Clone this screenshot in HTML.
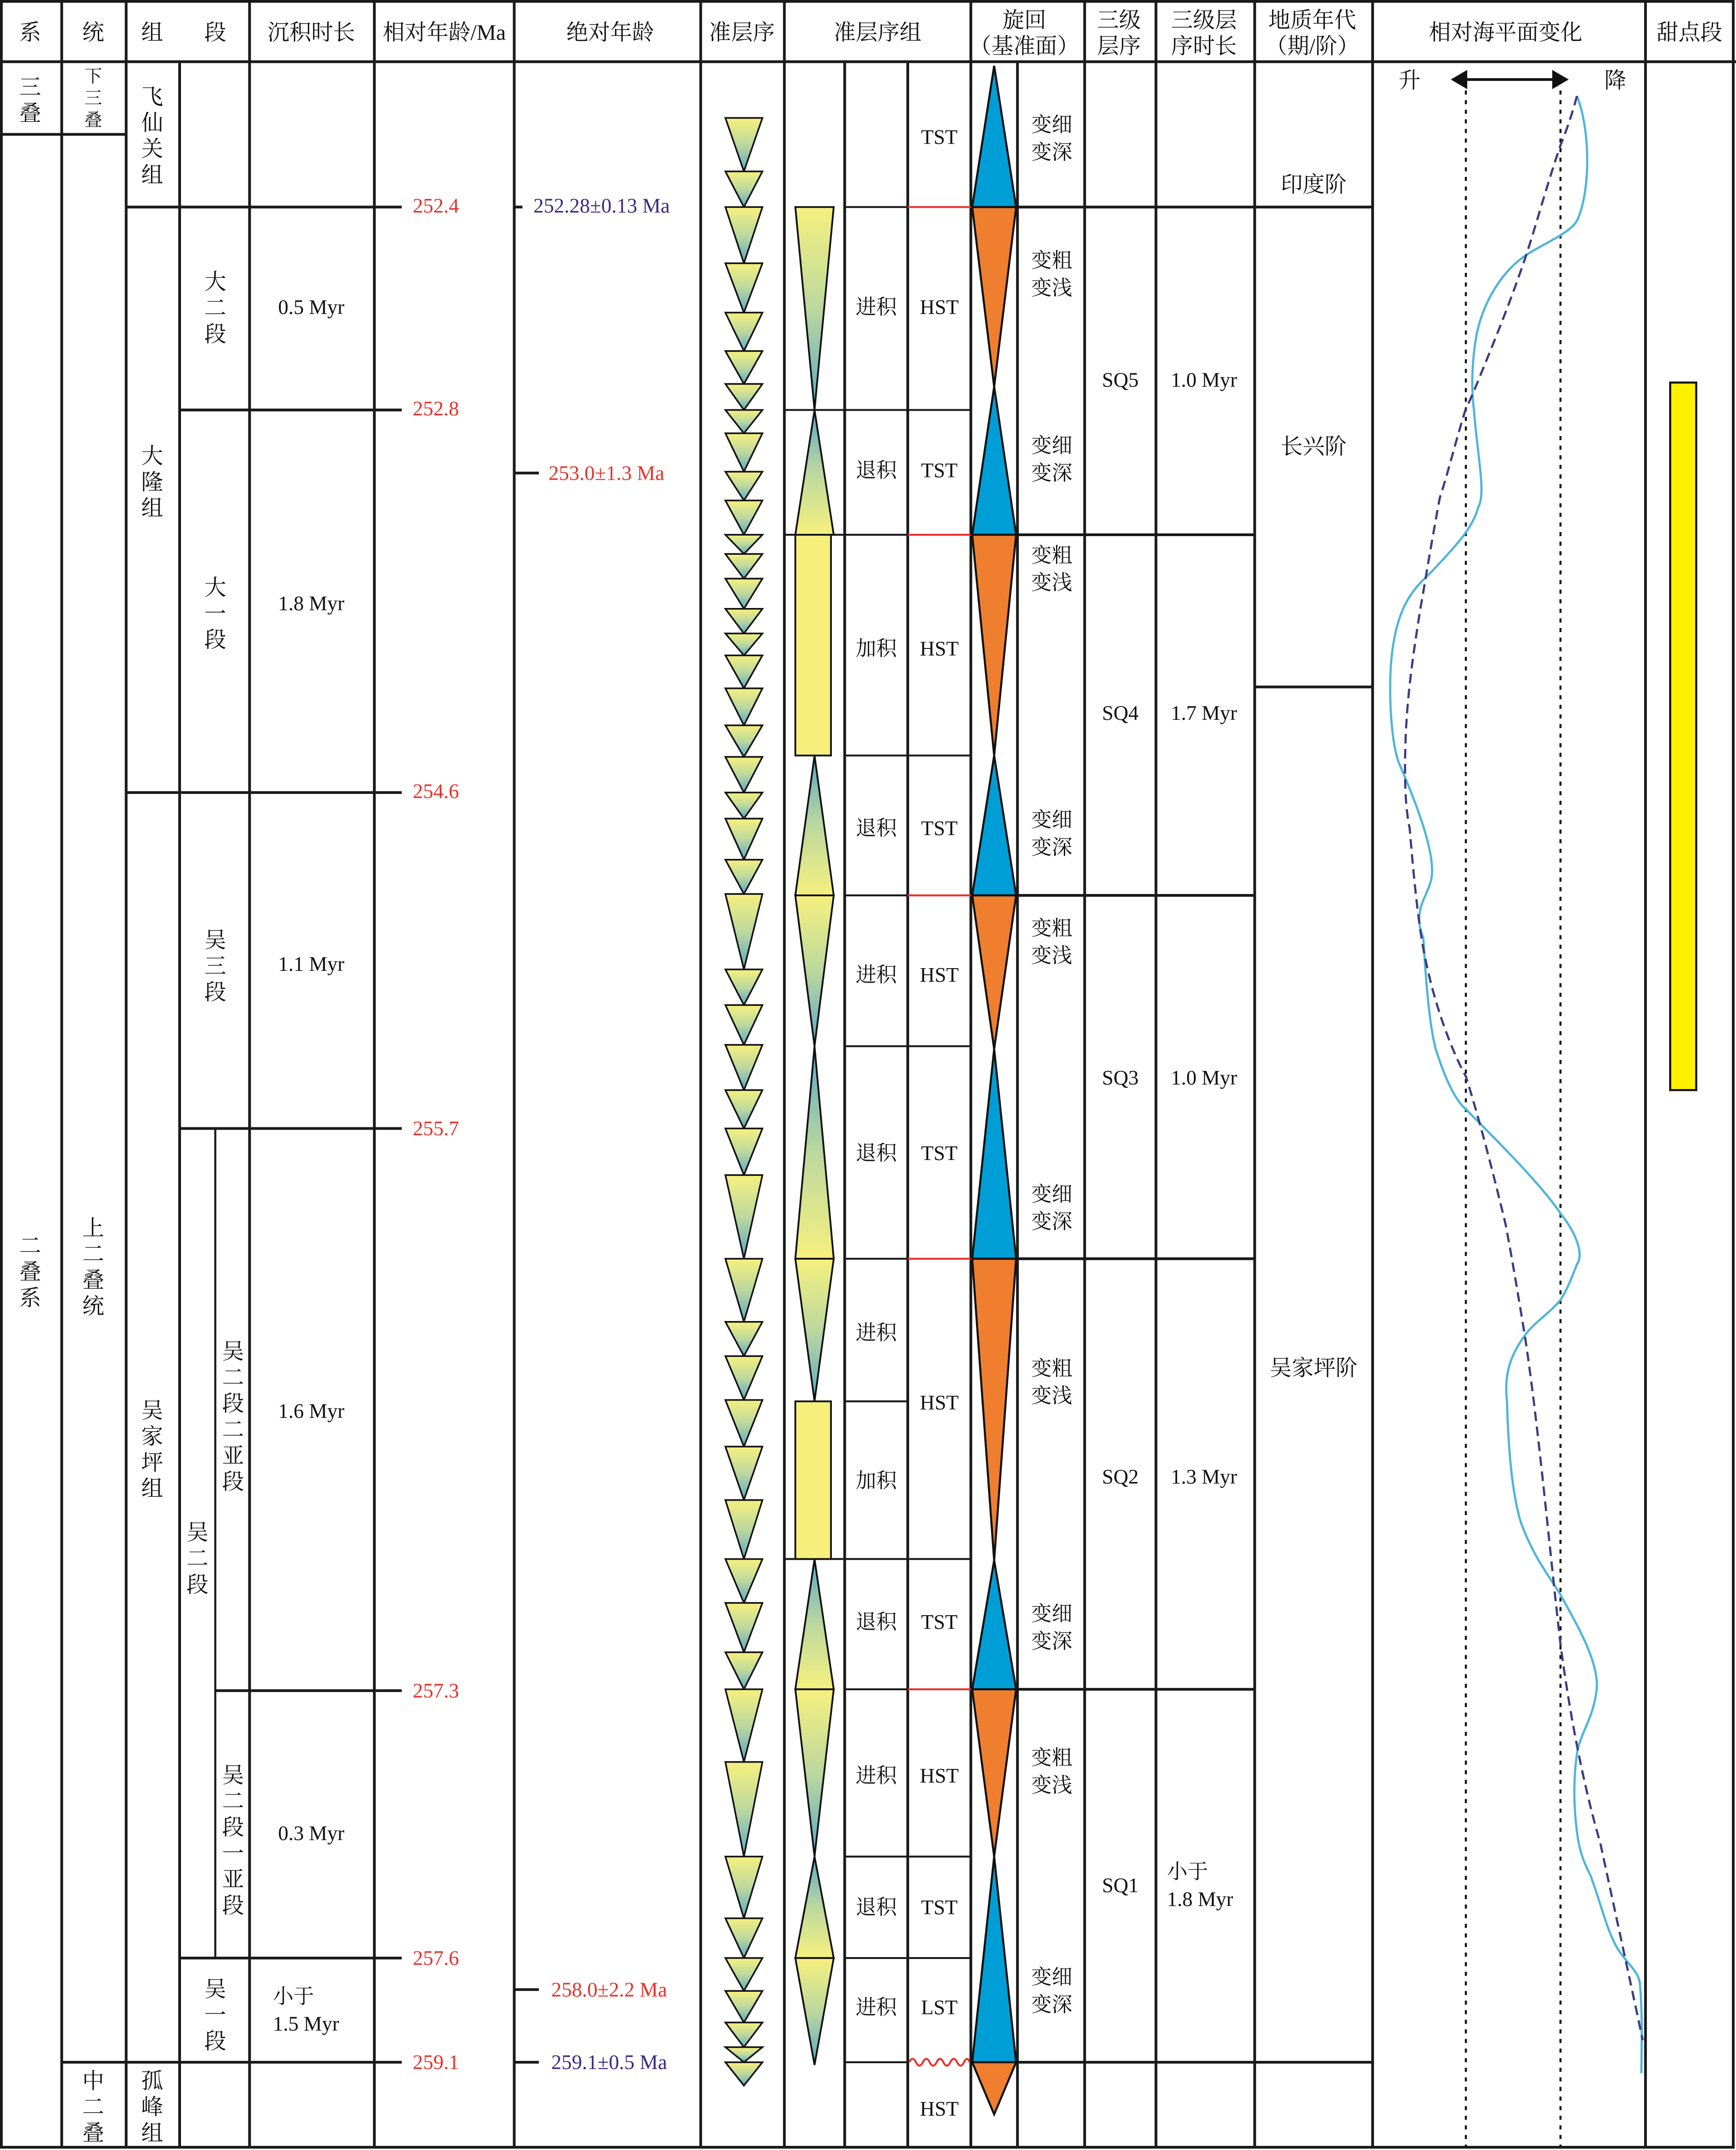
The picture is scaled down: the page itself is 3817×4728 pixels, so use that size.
<!DOCTYPE html>
<html><head><meta charset="utf-8"><style>
html,body{margin:0;padding:0;background:#fff;}
svg{display:block;}
text{font-family:"Liberation Serif","Noto Serif CJK SC","Noto Sans CJK SC",serif;fill:#111;}
text.red{fill:#e8312a;}
text.pur{fill:#3a2a80;}
</style></head><body>
<svg width="3817" height="4728" viewBox="0 0 1266 1568" preserveAspectRatio="none" xmlns="http://www.w3.org/2000/svg">
<defs>
<linearGradient id="gd" x1="0" y1="0" x2="0" y2="1"><stop offset="0" stop-color="#f6f07e"/><stop offset="0.5" stop-color="#bcd89e"/><stop offset="1" stop-color="#5aa8c6"/></linearGradient>
<linearGradient id="gu" x1="0" y1="1" x2="0" y2="0"><stop offset="0" stop-color="#f6f07e"/><stop offset="0.5" stop-color="#bcd89e"/><stop offset="1" stop-color="#5aa8c6"/></linearGradient>
</defs>
<rect x="0" y="0" width="1266" height="1568" fill="#fff"/>

<g stroke="#1a1a1a" stroke-width="2" fill="none">
<rect x="1" y="1" width="1263" height="1565"/>
<line x1="0" y1="45" x2="1266" y2="45"/>
<line x1="45" y1="1" x2="45" y2="1566"/>
<line x1="92" y1="1" x2="92" y2="1566"/>
<line x1="131" y1="45" x2="131" y2="1566"/>
<line x1="182" y1="1" x2="182" y2="1566"/>
<line x1="273" y1="1" x2="273" y2="1566"/>
<line x1="375" y1="1" x2="375" y2="1566"/>
<line x1="511" y1="1" x2="511" y2="1566"/>
<line x1="572" y1="1" x2="572" y2="1566"/>
<line x1="616" y1="45" x2="616" y2="1566"/>
<line x1="662" y1="45" x2="662" y2="1566"/>
<line x1="708" y1="1" x2="708" y2="1566"/>
<line x1="742" y1="45" x2="742" y2="1566"/>
<line x1="791" y1="1" x2="791" y2="1566"/>
<line x1="843" y1="1" x2="843" y2="1566"/>
<line x1="915" y1="1" x2="915" y2="1566"/>
<line x1="1001" y1="1" x2="1001" y2="1566"/>
<line x1="1200" y1="1" x2="1200" y2="1566"/>
<line x1="157" y1="823" x2="157" y2="1428" stroke-width="1.5"/>
<line x1="1" y1="98" x2="92" y2="98"/>
<line x1="92" y1="151" x2="293" y2="151"/>
<line x1="131" y1="299" x2="293" y2="299"/>
<line x1="92" y1="578" x2="293" y2="578"/>
<line x1="131" y1="823" x2="293" y2="823"/>
<line x1="157" y1="1233" x2="293" y2="1233"/>
<line x1="131" y1="1428" x2="293" y2="1428"/>
<line x1="45" y1="1504" x2="293" y2="1504"/>
<line x1="375" y1="151" x2="381" y2="151"/>
<line x1="375" y1="345" x2="393" y2="345"/>
<line x1="375" y1="1451" x2="393" y2="1451"/>
<line x1="375" y1="1504" x2="393" y2="1504"/>
<line x1="708" y1="151" x2="1001" y2="151"/>
<line x1="708" y1="390" x2="915" y2="390"/>
<line x1="708" y1="653" x2="915" y2="653"/>
<line x1="708" y1="918" x2="915" y2="918"/>
<line x1="708" y1="1232" x2="915" y2="1232"/>
<line x1="708" y1="1504" x2="1001" y2="1504"/>
<line x1="915" y1="501" x2="1001" y2="501"/>
</g>
<g stroke="#1a1a1a" stroke-width="1.4">
<line x1="616" y1="151" x2="662" y2="151"/>
<line x1="572" y1="299" x2="708" y2="299"/>
<line x1="572" y1="390" x2="662" y2="390"/>
<line x1="616" y1="551" x2="708" y2="551"/>
<line x1="616" y1="653" x2="662" y2="653"/>
<line x1="616" y1="763" x2="708" y2="763"/>
<line x1="616" y1="918" x2="662" y2="918"/>
<line x1="616" y1="1022" x2="662" y2="1022"/>
<line x1="572" y1="1137" x2="708" y2="1137"/>
<line x1="616" y1="1232" x2="662" y2="1232"/>
<line x1="616" y1="1354" x2="708" y2="1354"/>
<line x1="616" y1="1428" x2="708" y2="1428"/>
<line x1="616" y1="1504" x2="662" y2="1504"/>
</g>
<g stroke="#e8312a" stroke-width="1.4" fill="none">
<line x1="662" y1="151" x2="708" y2="151"/>
<line x1="662" y1="390" x2="708" y2="390"/>
<line x1="662" y1="653" x2="708" y2="653"/>
<line x1="662" y1="918" x2="708" y2="918"/>
<line x1="662" y1="1232" x2="708" y2="1232"/>
<path d="M663,1504 q2.5,-5 5,0 t5,0 t5,0 t5,0 t5,0 t5,0 t5,0 t5,0 t4,0"/>
</g>

<g stroke="#111" stroke-width="1.2" fill="url(#gd)">
<polygon points="529,86 556,86 542.5,125"/><polygon points="529,125 556,125 542.5,151"/>
<polygon points="529,151 556,151 542.5,192"/><polygon points="529,192 556,192 542.5,228"/>
<polygon points="529,228 556,228 542.5,256"/><polygon points="529,256 556,256 542.5,280"/>
<polygon points="529,280 556,280 542.5,299"/><polygon points="529,299 556,299 542.5,316"/>
<polygon points="529,316 556,316 542.5,344"/><polygon points="529,344 556,344 542.5,365"/>
<polygon points="529,365 556,365 542.5,390"/><polygon points="529,390 556,390 542.5,404"/>
<polygon points="529,404 556,404 542.5,422"/><polygon points="529,422 556,422 542.5,444"/>
<polygon points="529,444 556,444 542.5,462"/><polygon points="529,462 556,462 542.5,478"/>
<polygon points="529,478 556,478 542.5,502"/><polygon points="529,502 556,502 542.5,529"/>
<polygon points="529,529 556,529 542.5,552"/><polygon points="529,552 556,552 542.5,578"/>
<polygon points="529,578 556,578 542.5,597"/><polygon points="529,597 556,597 542.5,627"/>
<polygon points="529,627 556,627 542.5,652"/><polygon points="529,652 556,652 542.5,707"/>
<polygon points="529,707 556,707 542.5,733"/><polygon points="529,733 556,733 542.5,762"/>
<polygon points="529,762 556,762 542.5,795"/><polygon points="529,795 556,795 542.5,823"/>
<polygon points="529,823 556,823 542.5,857"/><polygon points="529,857 556,857 542.5,918"/>
<polygon points="529,918 556,918 542.5,964"/><polygon points="529,964 556,964 542.5,989"/>
<polygon points="529,989 556,989 542.5,1021"/><polygon points="529,1021 556,1021 542.5,1055"/>
<polygon points="529,1055 556,1055 542.5,1094"/><polygon points="529,1094 556,1094 542.5,1137"/>
<polygon points="529,1137 556,1137 542.5,1169"/><polygon points="529,1169 556,1169 542.5,1205"/>
<polygon points="529,1205 556,1205 542.5,1232"/><polygon points="529,1232 556,1232 542.5,1285"/>
<polygon points="529,1285 556,1285 542.5,1354"/><polygon points="529,1354 556,1354 542.5,1399"/>
<polygon points="529,1399 556,1399 542.5,1428"/><polygon points="529,1428 556,1428 542.5,1452"/>
<polygon points="529,1452 556,1452 542.5,1475"/><polygon points="529,1475 556,1475 542.5,1493"/>
<polygon points="529,1493 556,1493 542.5,1504"/><polygon points="529,1504 556,1504 542.5,1521"/>
</g>

<g stroke="#111" stroke-width="1.3">
<polygon points="580,151 608,151 594,299" fill="url(#gd)"/>
<polygon points="594,299 608,390 580,390" fill="url(#gu)"/>
<rect x="580" y="390" width="26" height="161" fill="#f6ef7c"/>
<polygon points="594,551 608,653 580,653" fill="url(#gu)"/>
<polygon points="580,653 608,653 594,763" fill="url(#gd)"/>
<polygon points="594,763 608,918 580,918" fill="url(#gu)"/>
<polygon points="580,918 608,918 594,1022" fill="url(#gd)"/>
<rect x="580" y="1022" width="26" height="115" fill="#f6ef7c"/>
<polygon points="594,1137 608,1232 580,1232" fill="url(#gu)"/>
<polygon points="580,1232 608,1232 594,1354" fill="url(#gd)"/>
<polygon points="594,1354 608,1428 580,1428" fill="url(#gu)"/>
<polygon points="580,1428 608,1428 594,1506" fill="url(#gd)"/>
</g>

<g stroke="#111" stroke-width="1.5">
<polygon points="725,48 741,151 709,151" fill="#009ed6"/>
<polygon points="709,151 741,151 725,282" fill="#ef7f2e"/>
<polygon points="725,282 741,390 709,390" fill="#009ed6"/>
<polygon points="709,390 741,390 725,551" fill="#ef7f2e"/>
<polygon points="725,551 741,653 709,653" fill="#009ed6"/>
<polygon points="709,653 741,653 725,765" fill="#ef7f2e"/>
<polygon points="725,765 741,918 709,918" fill="#009ed6"/>
<polygon points="709,918 741,918 725,1138" fill="#ef7f2e"/>
<polygon points="725,1138 741,1232 709,1232" fill="#009ed6"/>
<polygon points="709,1232 741,1232 725,1354" fill="#ef7f2e"/>
<polygon points="725,1354 741,1504 709,1504" fill="#009ed6"/>
<polygon points="709,1504 741,1504 725,1542" fill="#ef7f2e"/>
</g>

<g stroke="#111" stroke-width="1.5" stroke-dasharray="3,4">
<line x1="1069" y1="66" x2="1069" y2="1566"/>
<line x1="1138" y1="66" x2="1138" y2="1566"/>
</g>
<line x1="1066" y1="58" x2="1136" y2="58" stroke="#111" stroke-width="2"/>
<polygon points="1058,58 1070,51 1070,65" fill="#111"/>
<polygon points="1144,58 1132,51 1132,65" fill="#111"/>
<path d="M1150,70 C1160,95 1160,140 1150,161 C1145,170 1125,178 1113,186 C1095,198 1082,220 1077,243 C1073,265 1073,285 1075,300 C1077,330 1084,360 1078,370 C1074,385 1062,398 1042,419 C1030,430 1016,445 1014,491 C1013,520 1016,545 1020,556 C1028,575 1050,625 1043,644 C1040,655 1030,665 1038,684 C1040,720 1043,750 1047,765 C1055,790 1062,803 1069,809 C1090,830 1125,865 1138,885 C1150,900 1155,915 1150,922 C1145,935 1142,942 1138,948 C1130,958 1118,965 1112,974 C1100,990 1097,1005 1099,1022 C1100,1060 1103,1090 1109,1110 C1118,1135 1130,1150 1138,1163 C1150,1185 1168,1215 1164,1235 C1161,1255 1152,1265 1150,1279 C1147,1300 1148,1320 1150,1336 C1152,1352 1156,1360 1160,1368 C1168,1390 1172,1408 1179,1420 C1186,1432 1196,1438 1196,1448 C1198,1470 1197,1495 1197,1512" fill="none" stroke="#4db6d8" stroke-width="1.6"/>
<path d="M1150,70 C1146,85 1142,96 1138,106 C1128,135 1120,165 1113,186 C1100,225 1085,260 1075,285 C1072,292 1070,296 1069,298 C1062,320 1056,345 1050,363 C1044,395 1040,420 1036,443 C1030,480 1026,510 1025,540 C1024,570 1025,590 1028,604 C1031,640 1034,670 1038,692 C1045,730 1058,765 1069,785 C1080,820 1090,860 1098,893 C1104,925 1108,950 1112,974 C1122,1040 1130,1130 1138,1199 C1146,1260 1157,1310 1167,1344 C1178,1395 1190,1450 1198,1488" fill="none" stroke="#3c3c82" stroke-width="1.6" stroke-dasharray="7,4"/>

<rect x="1218" y="279" width="19" height="516" fill="#fff000" stroke="#111" stroke-width="1.5"/>

<g font-size="16" text-anchor="middle">
<text x="22" y="29">系</text>
<text x="68" y="29">统</text>
<text x="111" y="29">组</text>
<text x="157" y="29">段</text>
<text x="227" y="29">沉积时长</text>
<text x="324" y="29">相对年龄/Ma</text>
<text x="445" y="29">绝对年龄</text>
<text x="541" y="29">准层序</text>
<text x="640" y="29">准层序组</text>
<text x="747" y="20">旋回</text>
<text x="747" y="39">（基准面）</text>
<text x="816" y="20">三级</text>
<text x="816" y="39">层序</text>
<text x="878" y="20">三级层</text>
<text x="878" y="39">序时长</text>
<text x="957" y="20">地质年代</text>
<text x="957" y="39">（期/阶）</text>
<text x="1098" y="29">相对海平面变化</text>
<text x="1232" y="29">甜点段</text>
</g>

<g font-size="16" text-anchor="middle">
<text x="22" y="69">三</text><text x="22" y="88">叠</text>
<text x="22" y="914">二</text><text x="22" y="933">叠</text><text x="22" y="952">系</text>
<text x="68" y="901">上</text><text x="68" y="920">二</text><text x="68" y="939">叠</text><text x="68" y="958">统</text>
<text x="68" y="1523">中</text><text x="68" y="1542">二</text><text x="68" y="1561">叠</text>
<text x="111" y="76">飞</text><text x="111" y="95">仙</text><text x="111" y="114">关</text><text x="111" y="133">组</text>
<text x="111" y="338">大</text><text x="111" y="357">隆</text><text x="111" y="376">组</text>
<text x="111" y="1034">吴</text><text x="111" y="1053">家</text><text x="111" y="1072">坪</text><text x="111" y="1091">组</text>
<text x="111" y="1523">孤</text><text x="111" y="1542">峰</text><text x="111" y="1561">组</text>
<text x="157" y="211">大</text><text x="157" y="230">二</text><text x="157" y="249">段</text>
<text x="157" y="434">大</text><text x="157" y="453">一</text><text x="157" y="472">段</text>
<text x="157" y="691">吴</text><text x="157" y="710">三</text><text x="157" y="729">段</text>
<text x="144" y="1123">吴</text><text x="144" y="1142">二</text><text x="144" y="1161">段</text>
<text x="170" y="991">吴</text><text x="170" y="1010">二</text><text x="170" y="1029">段</text><text x="170" y="1048">二</text><text x="170" y="1067">亚</text><text x="170" y="1086">段</text>
<text x="170" y="1300">吴</text><text x="170" y="1319">二</text><text x="170" y="1338">段</text><text x="170" y="1357">一</text><text x="170" y="1376">亚</text><text x="170" y="1395">段</text>
<text x="157" y="1456">吴</text><text x="157" y="1475">一</text><text x="157" y="1494">段</text>
</g>
<g font-size="13" text-anchor="middle">
<text x="68" y="60">下</text><text x="68" y="76">三</text><text x="68" y="92">叠</text>
</g>

<g font-size="15" text-anchor="middle">
<text x="227" y="229">0.5 Myr</text>
<text x="227" y="445">1.8 Myr</text>
<text x="227" y="708">1.1 Myr</text>
<text x="227" y="1034">1.6 Myr</text>
<text x="227" y="1342">0.3 Myr</text>
</g>
<g font-size="15">
<text x="199" y="1461">小于</text>
<text x="199" y="1481">1.5 Myr</text>
</g>

<g font-size="15">
<text class="red" x="301" y="155">252.4</text>
<text class="red" x="301" y="303">252.8</text>
<text class="red" x="301" y="582">254.6</text>
<text class="red" x="301" y="828">255.7</text>
<text class="red" x="301" y="1238">257.3</text>
<text class="red" x="301" y="1433">257.6</text>
<text class="red" x="301" y="1509">259.1</text>
<text class="red" x="400" y="350">253.0±1.3 Ma</text>
<text class="red" x="402" y="1456">258.0±2.2 Ma</text>
<text class="pur" x="389" y="155">252.28±0.13 Ma</text>
<text class="pur" x="402" y="1509">259.1±0.5 Ma</text>
</g>

<g font-size="15" text-anchor="middle">
<text x="639" y="229">进积</text>
<text x="639" y="348">退积</text>
<text x="639" y="478">加积</text>
<text x="639" y="609">退积</text>
<text x="639" y="716">进积</text>
<text x="639" y="846">退积</text>
<text x="639" y="977">进积</text>
<text x="639" y="1085">加积</text>
<text x="639" y="1188">退积</text>
<text x="639" y="1300">进积</text>
<text x="639" y="1396">退积</text>
<text x="639" y="1469">进积</text>
<text x="685" y="105">TST</text>
<text x="685" y="229">HST</text>
<text x="685" y="348">TST</text>
<text x="685" y="478">HST</text>
<text x="685" y="609">TST</text>
<text x="685" y="716">HST</text>
<text x="685" y="846">TST</text>
<text x="685" y="1028">HST</text>
<text x="685" y="1188">TST</text>
<text x="685" y="1300">HST</text>
<text x="685" y="1396">TST</text>
<text x="685" y="1469">LST</text>
<text x="685" y="1543">HST</text>
</g>

<g font-size="15" text-anchor="middle">
<text x="767" y="96">变细</text><text x="767" y="116">变深</text>
<text x="767" y="195">变粗</text><text x="767" y="215">变浅</text>
<text x="767" y="330">变细</text><text x="767" y="350">变深</text>
<text x="767" y="410">变粗</text><text x="767" y="430">变浅</text>
<text x="767" y="603">变细</text><text x="767" y="623">变深</text>
<text x="767" y="682">变粗</text><text x="767" y="702">变浅</text>
<text x="767" y="876">变细</text><text x="767" y="896">变深</text>
<text x="767" y="1003">变粗</text><text x="767" y="1023">变浅</text>
<text x="767" y="1182">变细</text><text x="767" y="1202">变深</text>
<text x="767" y="1287">变粗</text><text x="767" y="1307">变浅</text>
<text x="767" y="1447">变细</text><text x="767" y="1467">变深</text>
</g>

<g font-size="15" text-anchor="middle">
<text x="817" y="282">SQ5</text>
<text x="817" y="525">SQ4</text>
<text x="817" y="791">SQ3</text>
<text x="817" y="1082">SQ2</text>
<text x="817" y="1380">SQ1</text>
<text x="878" y="282">1.0 Myr</text>
<text x="878" y="525">1.7 Myr</text>
<text x="878" y="791">1.0 Myr</text>
<text x="878" y="1082">1.3 Myr</text>
</g>
<g font-size="15">
<text x="851" y="1370">小于</text>
<text x="851" y="1390">1.8 Myr</text>
</g>
<g font-size="16" text-anchor="middle">
<text x="958" y="140">印度阶</text>
<text x="958" y="331">长兴阶</text>
<text x="958" y="1003">吴家坪阶</text>
<text x="1028" y="64">升</text>
<text x="1178" y="64">降</text>
</g>
</svg>
</body></html>
